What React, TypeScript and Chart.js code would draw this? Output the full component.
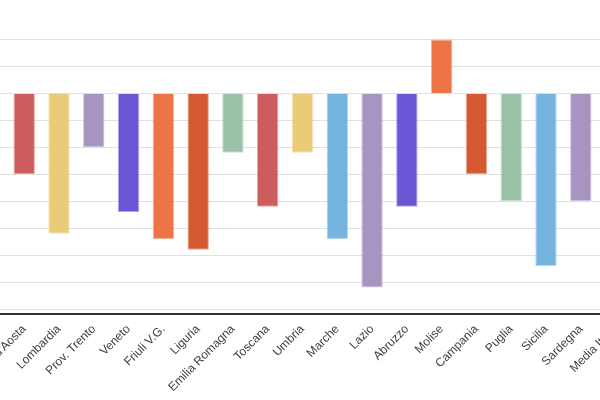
import React, { useEffect, useRef } from 'react';
import { Chart, registerables } from 'chart.js';

Chart.register(...registerables);

// Regions (first and last fall outside the visible crop of the reference)
const categories: string[] = [
  'Piemonte', "Valle d'Aosta", 'Lombardia', 'Prov. Trento', 'Veneto', 'Friuli V.G.', 'Liguria',
  'Emilia Romagna', 'Toscana', 'Umbria', 'Marche', 'Lazio', 'Abruzzo', 'Molise',
  'Campania', 'Puglia', 'Sicilia', 'Sardegna', 'Media Italia',
];

const values: (number | null)[] = [
  null, -3.0, -5.2, -2.0, -4.4, -5.4, -5.8, -2.2, -4.2, -2.2, -5.4, -7.2, -4.2, 2.0,
  -3.0, -4.0, -6.4, -4.0, null,
];

const barColors: string[] = [
  '#cd5c5c', '#cd5c5c', '#e9cb77', '#a894c1', '#6a55d4', '#ed7446', '#d45933', '#9ac2a8',
  '#cd5c5c', '#e9cb77', '#76b4e0', '#a894c1', '#6a55d4', '#ed7446', '#d45933',
  '#9ac2a8', '#76b4e0', '#a894c1', '#cd5c5c',
];

const toAlpha = (hex: string, a: number) => {
  const n = parseInt(hex.slice(1), 16);
  return `rgba(${(n >> 16) & 255},${(n >> 8) & 255},${n & 255},${a})`;
};

export default function App() {
  const ref = useRef<HTMLCanvasElement>(null);

  useEffect(() => {
    if (!ref.current) return;
    const chart = new Chart(ref.current, {
      type: 'bar',
      data: {
        labels: categories,
        datasets: [
          {
            data: values,
            backgroundColor: barColors,
            borderColor: barColors.map((c) => toAlpha(c, 0.55)),
            borderWidth: 1,
            borderSkipped: 'start',
            categoryPercentage: 1,
            barPercentage: 0.615,
          },
        ],
      },
      options: {
        animation: false,
        responsive: true,
        maintainAspectRatio: false,
        layout: { padding: { top: 26, left: 0, right: 0, bottom: 0 } },
        plugins: { legend: { display: false }, tooltip: { enabled: false } },
        scales: {
          x: {
            grid: { display: false },
            border: { display: true, color: '#333333', width: 2 },
            ticks: {
              color: '#404040',
              font: { family: "'Liberation Sans', Arial, sans-serif", size: 12 },
              minRotation: 45,
              maxRotation: 45,
              autoSkip: false,
              padding: 0,
            },
            afterFit: (s: any) => {
              s.height = 86;
              s.paddingLeft = 0;
              s.paddingRight = 0;
            },
          },
          y: {
            min: -8.18,
            max: 2.5,
            grid: { color: '#e0e0e0', lineWidth: 1, drawTicks: false },
            border: { display: false },
            ticks: { display: false, stepSize: 1, includeBounds: false },
          },
        },
      },
    });
    return () => chart.destroy();
  }, []);

  return (
    <div
      style={{
        position: 'fixed',
        left: 0,
        top: 0,
        width: 600,
        height: 400,
        overflow: 'hidden',
        background: '#ffffff',
      }}
    >
      <div style={{ position: 'absolute', left: -28, top: 0, width: 661, height: 400 }}>
        <canvas ref={ref} />
      </div>
    </div>
  );
}
